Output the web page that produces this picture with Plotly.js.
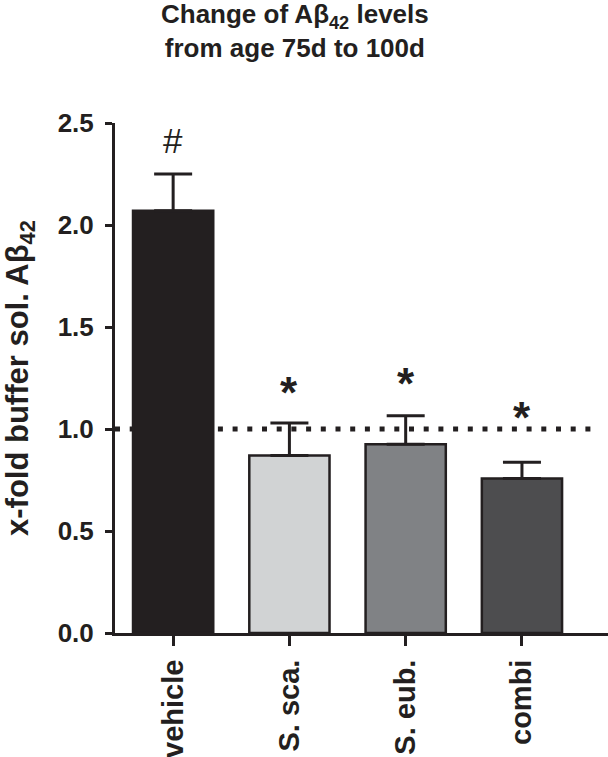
<!DOCTYPE html>
<html>
<head>
<meta charset="utf-8">
<script src="https://cdn.plot.ly/plotly-3.0.1.min.js"></script>
<style>
  html, body { margin: 0; padding: 0; background: #fff; }
  #chart { width: 608px; height: 757px; }
</style>
</head>
<body>
<div id="chart"></div>
<script>
// Data
const categories = ['vehicle', 'S. sca.', 'S. eub.', 'combi'];
const foldChange = [2.07, 0.87, 0.925, 0.757];
const semUp = [0.18, 0.16, 0.14, 0.08];
const signifMarks = ['#', '*', '*', '*'];
const baseline = 1.0;

const barColors = ['#231f20', '#d1d3d4', '#808285', '#4d4d4f'];
const ink = '#231f20';
const fontFamily = 'Liberation Sans, Arial, Helvetica, sans-serif';

var trace = {
    type: 'bar',
    x: categories,
    y: foldChange,
    width: 0.69,
    marker: {
        color: barColors,
        line: { color: ink, width: 2.5 }
    },
    error_y: {
        type: 'data',
        symmetric: false,
        array: semUp,
        arrayminus: semUp.map(() => 0),
        color: ink,
        thickness: 3,
        width: 19
    },
    hoverinfo: 'x+y'
};

// significance marks sit above the error bars (combi one just above the dotted line)
const markShift = [12, 4, 6, -15];
var marks = categories.map((c, i) => ({
    x: c,
    y: Math.max(foldChange[i] + semUp[i], i === 3 ? baseline : 0),
    xref: 'x',
    yref: 'y',
    text: signifMarks[i],
    showarrow: false,
    yanchor: 'bottom',
    yshift: markShift[i],
    font: {
        family: fontFamily,
        size: signifMarks[i] === '#' ? 35 : 44,
        color: ink,
        weight: signifMarks[i] === '#' ? 'normal' : 'bold'
    }
}));

// y axis title as a rotated annotation so it can sit closer to the left edge
marks.push({
    text: 'x-fold buffer sol. Aβ<sub>42</sub>',
    xref: 'paper',
    yref: 'paper',
    x: 0,
    y: 0.5,
    xanchor: 'center',
    yanchor: 'middle',
    xshift: -95,
    textangle: -90,
    showarrow: false,
    font: { family: fontFamily, size: 31, color: ink, weight: 'bold' }
});

var layout = {
    width: 608,
    height: 757,
    margin: { l: 115, r: 0, t: 123, b: 124 },
    paper_bgcolor: '#fff',
    plot_bgcolor: '#fff',
    showlegend: false,
    font: { family: fontFamily, color: ink, weight: 'bold' },
    title: {
        text: 'Change of Aβ<sub>42</sub> levels<br>from age 75d to 100d',
        font: { family: fontFamily, size: 26, color: ink, weight: 'bold' },
        x: 0.485,
        xanchor: 'center',
        xref: 'container',
        y: 0.969,
        yref: 'container',
        yanchor: 'top',
        pad: { t: 0 }
    },
    xaxis: {
        type: 'category',
        range: [-0.5, 3.74],
        showline: true,
        linewidth: 3,
        linecolor: ink,
        ticks: 'outside',
        ticklen: 10,
        tickwidth: 3,
        tickcolor: ink,
        tickangle: -90,
        ticklabelstandoff: 2,
        tickfont: { family: fontFamily, size: 29, color: ink, weight: 'bold' },
        showgrid: false,
        zeroline: false,
        fixedrange: true
    },
    yaxis: {
        range: [0, 2.5],
        dtick: 0.5,
        tick0: 0,
        tickformat: '.1f',
        showline: true,
        linewidth: 3,
        linecolor: ink,
        ticks: 'outside',
        ticklen: 7,
        tickwidth: 3,
        tickcolor: ink,
        ticklabelstandoff: 6,
        tickfont: { family: fontFamily, size: 26, color: ink, weight: 'bold' },
        showgrid: false,
        zeroline: false,
        fixedrange: true
    },
    shapes: [{
        type: 'line',
        xref: 'paper',
        x0: 0,
        x1: 0.98,
        yref: 'y',
        y0: baseline,
        y1: baseline,
        layer: 'below',
        line: { color: ink, width: 5, dash: '5px,9.7px' }
    }],
    annotations: marks
};

Plotly.newPlot('chart', [trace], layout, { displayModeBar: false, staticPlot: true });
</script>
</body>
</html>
